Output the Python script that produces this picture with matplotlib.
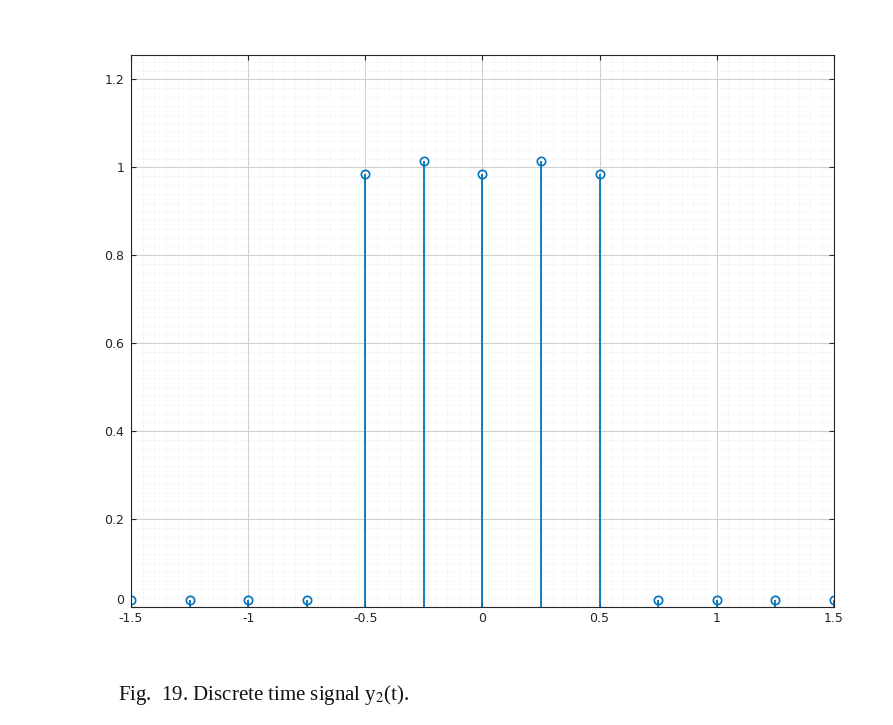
import matplotlib
matplotlib.use("Agg")
import matplotlib.pyplot as plt
from matplotlib.ticker import MultipleLocator

t = [-1.5, -1.25, -1.0, -0.75, -0.5, -0.25, 0.0, 0.25, 0.5, 0.75, 1.0, 1.25, 1.5]
y = [0.015, 0.015, 0.015, 0.015, 0.985, 1.015, 0.985, 1.015, 0.985, 0.015, 0.015, 0.015, 0.015]
xticks = [-1.5, -1, -0.5, 0, 0.5, 1, 1.5]
xlabels = ["-1.5", "-1", "-0.5", "0", "0.5", "1", "1.5"]
yticks = [0, 0.2, 0.4, 0.6, 0.8, 1.0, 1.2]
ylabels = ["0", "0.2", "0.4", "0.6", "0.8", "1", "1.2"]

plt.rcParams["mathtext.fontset"] = "stix"
color = "#0072BD"
fig = plt.figure(figsize=(8.93, 7.25), dpi=100)
ax = fig.add_axes([0.1467, 0.1628, 0.787, 0.761])

ml, sl, bl = ax.stem(t, y, basefmt=" ")
plt.setp(sl, color=color, lw=1.3)
plt.setp(ml, marker="o", markersize=6, markerfacecolor="none",
         markeredgecolor=color, markeredgewidth=1.2)

ax.set_xlim(-1.5, 1.5)
ax.set_ylim(0, 1.255)
ax.set_xticks(xticks, xlabels)
ax.set_yticks(yticks, ylabels)
ax.xaxis.set_minor_locator(MultipleLocator(0.05))
ax.yaxis.set_minor_locator(MultipleLocator(0.02))
ax.grid(which="major", color="#d0d0d0", lw=0.8)
ax.grid(which="minor", color="#e4e4e4", lw=0.5, ls=":")
ax.set_axisbelow(True)
ax.tick_params(which="both", top=True, right=True, direction="in",
               labelsize=9, colors="#262626")
ax.tick_params(axis="y", pad=5)
ax.tick_params(which="minor", length=0)
ax.get_yticklabels()[0].set_va("bottom")
for s in ax.spines.values():
    s.set_color("#262626")
    s.set_linewidth(0.8)

fig.text(0.132, 0.035, r"Fig.  19. Discrete time signal y$_{\mathrm{2}}$(t).",
         family="Liberation Serif", fontsize=15, color="#111111")

fig.savefig("out.png", dpi=100)
